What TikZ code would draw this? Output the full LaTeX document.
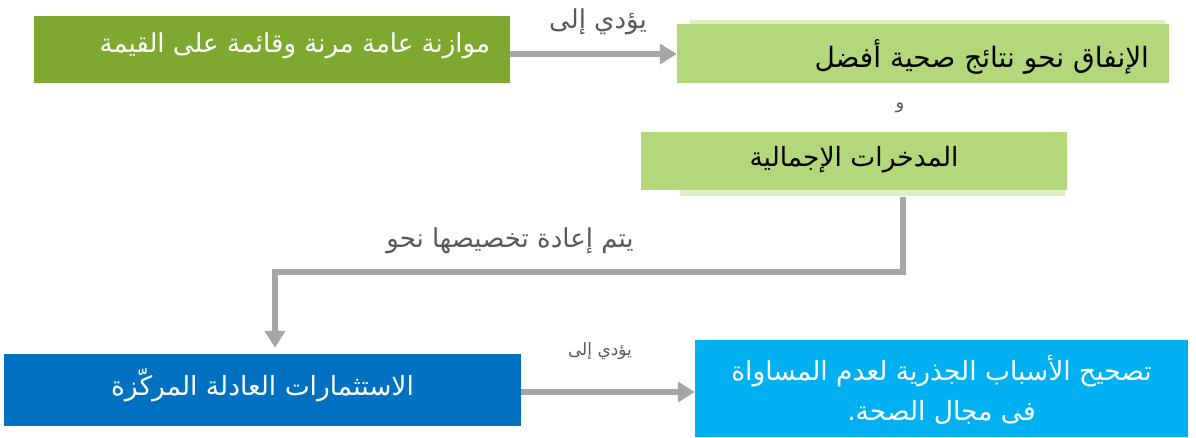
\documentclass[tikz,border=0pt]{standalone}
\usepackage{fontspec}
\newfontfamily\arabicfont[Script=Arabic]{DejaVu Sans}
\TeXXeTstate=1
\usetikzlibrary{arrows.meta}
\definecolor{dgreen}{RGB}{126,168,48}
\definecolor{lgreen}{RGB}{179,215,122}
\definecolor{lshadow}{RGB}{222,238,196}
\definecolor{dblue}{RGB}{0,112,192}
\definecolor{cyanbox}{RGB}{0,176,240}
\definecolor{conngray}{RGB}{166,166,166}
\definecolor{labgray}{RGB}{89,89,89}
\newcommand{\ar}[1]{{\arabicfont\beginR #1\endR}}
\begin{document}
\begin{tikzpicture}[x=1pt,y=-1pt,
  box/.style={draw=none,inner sep=0pt,anchor=center,font=\arabicfont},
  conn/.style={draw=conngray,line width=6.5pt,-{Triangle[length=17pt,width=20pt]}},
  lab/.style={text=labgray,inner sep=0pt,anchor=center}]
\useasboundingbox (0,0) rectangle (1196,438);
% shadows
\fill[lshadow] (680,189) rectangle (1065,196);
\fill[lshadow] (690,20) rectangle (1165,26);
% boxes
\node[box,fill=dgreen,minimum width=476pt,minimum height=67pt,text=white] (b1) at (272,49.5) {};
\node[box,fill=lgreen,minimum width=492pt,minimum height=59pt] (b2) at (923,54) {};
\node[box,fill=lgreen,minimum width=426pt,minimum height=58pt] (b3) at (854,161) {};
\node[box,fill=dblue,minimum width=517pt,minimum height=72pt] (b4) at (262.5,390) {};
\node[box,fill=cyanbox,minimum width=493pt,minimum height=97pt] (b5) at (941.5,388.5) {};
% texts
\node[anchor=east,inner sep=0pt,text=white,font=\fontsize{26}{30}\selectfont] (t1) at ([xshift=-20pt,yshift=4pt]b1.east) {\ar{موازنة عامة مرنة وقائمة على القيمة}};
\node[anchor=east,inner sep=0pt,text=black,font=\fontsize{28}{32}\selectfont] (t2) at ([xshift=-20pt,yshift=-3pt]b2.east) {\ar{الإنفاق نحو نتائج صحية أفضل}};
\node[inner sep=0pt,text=black,font=\fontsize{26.5}{30}\selectfont] (t3) at ([yshift=1pt]b3.center) {\ar{المدخرات الإجمالية}};
\node[inner sep=0pt,text=white,font=\fontsize{26.5}{30}\selectfont] (t4) at ([yshift=5pt]b4.center) {\ar{الاستثمارات العادلة المركّزة}};
\node[inner sep=0pt,text=white,font=\fontsize{26.5}{40}\selectfont,align=center] (t5) at ([yshift=-1pt]b5.center) {\ar{تصحيح الأسباب الجذرية لعدم المساواة}\\\ar{فى مجال الصحة.}};
% connectors
\draw[conn] (b1.east |- b2.west) -- (b2.west);
\draw[conn] ([yshift=-2pt]b4.east) -- ([yshift=-2pt]b4.east -| b5.west);
\draw[conn,shorten >=6pt] ([xshift=49pt,yshift=-7pt]b3.south) -- ++(0,75) -| ([xshift=12.5pt]b4.north);
% labels
\node[lab,font=\fontsize{26}{30}\selectfont] (l1) at (598,22) {\ar{يؤدي إلى}};
\node[lab,font=\fontsize{18}{20}\selectfont] (l2) at (900,108) {\ar{و}};
\node[lab,font=\fontsize{26}{30}\selectfont] (l3) at (510,241) {\ar{يتم إعادة تخصيصها نحو}};
\node[lab,font=\fontsize{17}{20}\selectfont] (l4) at (600,351) {\ar{يؤدي إلى}};
\end{tikzpicture}
\end{document}
